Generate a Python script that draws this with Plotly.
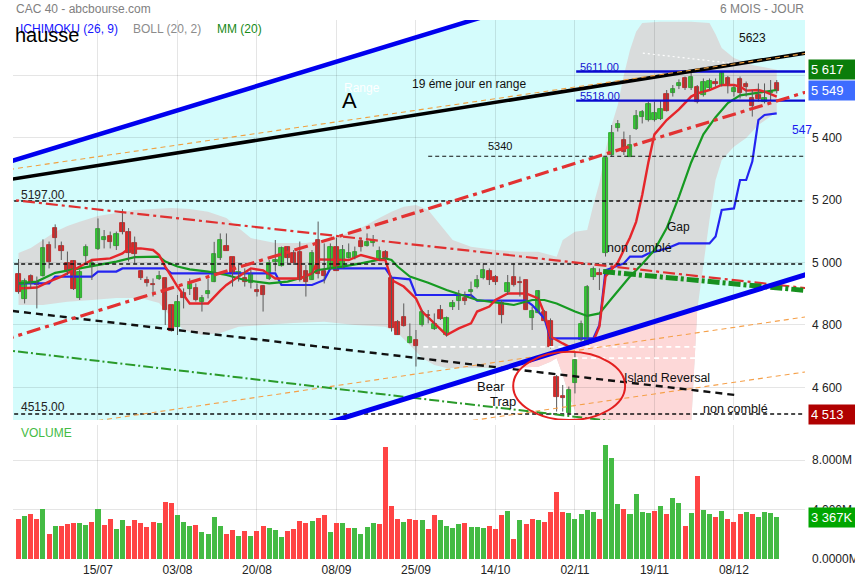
import plotly.graph_objects as go

# ---------------- CAC 40 daily bars, index 0 = 26/06/2020 ... 124 = 17/12/2020 ----------------
opens = [4962, 4883, 4957, 4935, 4957, 5056, 5109, 5053, 5000, 5005,
         4887, 5022, 4987, 5042, 5073, 5085, 5054, 5126, 5097, 5061,
         4973, 4943, 4930, 4946, 4949, 4864, 4795, 4903, 4914, 4917,
         4872, 4900, 4939, 5013, 5053, 5017, 4965, 4949, 4935, 4912,
         4925, 4946, 5003, 4989, 5049, 5029, 5035, 4973, 4944, 5072,
         4973, 4978, 5049, 4981, 5015, 5014, 5070, 5054, 5061, 5010,
         5035, 4949, 4810, 4825, 4743, 4752, 4800, 4831, 4787, 4848,
         4768, 4859, 4878, 4886, 4907, 4923, 4949, 4974, 4952, 4869,
         4907, 4952, 4939, 4944, 4822, 4839, 4843, 4814, 4635, 4572,
         4517, 4613, 4752, 4736, 4953, 4965, 5030, 5344, 5429, 5392,
         5339, 5426, 5465, 5456, 5456, 5458, 5539, 5541, 5565, 5589,
         5557, 5561, 5536, 5557, 5577, 5568, 5589, 5547, 5586, 5571,
         5525, 5536, 5515, 5541, 5573]
highs = [5011, 4949, 4962, 4955, 5074, 5067, 5122, 5067, 5035, 5008,
         4977, 5058, 5008, 5141, 5104, 5099, 5099, 5171, 5110, 5083,
         4976, 4955, 4949, 4973, 4949, 4864, 4896, 4917, 4949, 4933,
         4896, 4949, 5066, 5093, 5093, 5017, 4992, 4981, 4976, 4933,
         4928, 5008, 5072, 5051, 5051, 5040, 5067, 4992, 5040, 5131,
         5061, 5061, 5080, 5056, 5061, 5051, 5080, 5093, 5088, 5051,
         5040, 4955, 4816, 4869, 4805, 4784, 4848, 4848, 4837, 4864,
         4827, 4880, 4912, 4907, 4939, 4960, 4997, 4981, 4960, 4880,
         4960, 4997, 4955, 4944, 4859, 4912, 4848, 4821, 4640, 4608,
         4603, 4715, 4814, 4928, 4987, 4981, 5336, 5440, 5456, 5419,
         5408, 5488, 5488, 5515, 5515, 5520, 5552, 5568, 5586, 5595,
         5611, 5568, 5589, 5589, 5589, 5613, 5597, 5568, 5595, 5579,
         5552, 5573, 5573, 5584, 5584]
lows = [4900, 4869, 4917, 4853, 4955, 4981, 5045, 5008, 4960, 4912,
        4880, 4992, 4944, 5040, 5045, 5045, 5040, 5090, 5003, 4997,
        4944, 4923, 4891, 4944, 4800, 4779, 4768, 4853, 4896, 4875,
        4843, 4885, 4937, 5008, 5038, 4923, 4939, 4923, 4917, 4891,
        4843, 4944, 4971, 4987, 4997, 4992, 4939, 4891, 4944, 4949,
        4933, 4976, 4974, 4981, 5013, 5010, 5035, 5051, 5051, 5008,
        5008, 4779, 4768, 4795, 4741, 4667, 4795, 4805, 4784, 4816,
        4763, 4848, 4848, 4864, 4885, 4917, 4946, 4928, 4928, 4805,
        4896, 4923, 4891, 4848, 4784, 4837, 4811, 4725, 4523, 4523,
        4513, 4581, 4747, 4736, 4944, 4912, 5019, 5339, 5419, 5344,
        5339, 5424, 5445, 5451, 5451, 5456, 5483, 5531, 5555, 5552,
        5552, 5509, 5531, 5552, 5563, 5563, 5541, 5531, 5525, 5531,
        5467, 5515, 5509, 5515, 5541]
closes = [4907, 4942, 4933, 4928, 5045, 5003, 5077, 5038, 4973, 4914,
          4971, 5051, 4997, 5107, 5082, 5067, 5090, 5099, 5029, 5026,
          4951, 4934, 4928, 4957, 4848, 4781, 4872, 4885, 4930, 4880,
          4885, 4909, 5026, 5072, 5038, 4963, 4970, 4939, 4963, 4907,
          4896, 4997, 5008, 5045, 5013, 4997, 4944, 4939, 5029, 4962,
          4958, 5051, 4974, 5040, 5030, 5034, 5049, 5066, 5072, 5037,
          5013, 4789, 4768, 4797, 4763, 4733, 4843, 4829, 4802, 4818,
          4822, 4871, 4893, 4878, 4912, 4944, 4976, 4944, 4939, 4832,
          4935, 4928, 4933, 4848, 4846, 4909, 4814, 4729, 4569, 4565,
          4592, 4688, 4803, 4921, 4978, 4961, 5333, 5413, 5443, 5355,
          5376, 5469, 5481, 5507, 5477, 5490, 5486, 5554, 5575, 5557,
          5595, 5515, 5579, 5582, 5571, 5605, 5568, 5557, 5541, 5563,
          5502, 5522, 5527, 5547, 5549]
# volume in millions of shares
volumes = [3.26, 3.48, 3.62, 3.26, 4.07, 2.05, 2.70, 2.64, 2.83, 2.89,
           2.89, 2.72, 2.99, 4.07, 2.75, 3.24, 2.40, 3.13, 2.67, 3.13,
           2.89, 2.59, 2.99, 2.89, 4.64, 4.53, 3.59, 3.02, 2.67, 2.75,
           2.19, 2.05, 3.42, 2.70, 2.03, 2.35, 1.86, 2.29, 1.89, 2.29,
           2.64, 2.51, 2.37, 1.78, 2.29, 2.40, 3.05, 2.94, 3.08, 3.35,
           3.59, 2.16, 2.94, 2.94, 2.51, 2.51, 2.05, 2.59, 2.91, 2.81,
           9.06, 4.26, 3.21, 2.99, 3.24, 3.18, 3.13, 2.45, 3.53, 3.18,
           2.70, 2.48, 2.83, 2.89, 2.56, 2.56, 2.54, 2.64, 2.45, 3.53,
           3.90, 1.65, 3.13, 2.86, 3.24, 3.18, 2.99, 3.77, 5.42, 3.83,
           3.69, 3.24, 3.64, 3.94, 3.83, 3.26, 9.19, 8.15, 4.42, 4.02,
           3.61, 5.26, 3.80, 3.72, 3.90, 4.31, 3.61, 4.96, 4.53, 2.64,
           3.75, 6.71, 3.99, 3.64, 3.40, 3.86, 3.21, 2.99, 3.61, 3.80,
           3.64, 3.40, 3.80, 3.69, 3.367]

tick_index = [13, 26, 39, 52, 65, 78, 91, 104, 117]
tick_dates = ["15/07", "03/08", "20/08", "08/09", "25/09", "14/10", "02/11", "19/11", "08/12"]
price_ticks = [4600, 4800, 5000, 5200, 5400, 5600]
price_tick_text = ["4 600", "4 800", "5 000", "5 200", "5 400", ""]   # 5 600 sits under the last-value box
volume_ticks = [0, 4, 8]
volume_tick_text = ["0.0000M", "4.000M", "8.000M"]

# ---------------- indicators (bar index, level) ----------------
tenkan_idx = [0, 3, 5, 7, 9, 12, 15, 17, 18, 20, 22, 23, 24, 26, 28, 31, 33, 34, 36, 38, 40, 42, 46, 48, 49,
              54, 56, 59, 60, 61, 63, 65, 66, 68, 70, 72, 74, 75, 77, 78, 80, 83, 85, 86, 87, 89, 90, 92, 94,
              95, 96, 98, 100, 101, 102, 103, 104, 106, 108, 110, 111, 113, 115, 117, 118, 119, 121, 122, 124]
tenkan_val = [4917, 4920, 4939, 4955, 4976, 5008, 5013, 5029, 5045, 5045, 5040, 5024, 4987, 4923, 4869, 4869,
              4910, 4928, 4955, 4981, 4975, 4949, 4949, 4965, 5010, 5008, 5024, 5008, 5008, 4944, 4923, 4885,
              4843, 4805, 4768, 4789, 4805, 4843, 4859, 4880, 4901, 4901, 4885, 4837, 4763, 4741, 4731, 4736,
              4747, 4795, 4955, 5000, 5080, 5130, 5216, 5320, 5410, 5456, 5490, 5531, 5541, 5552, 5568, 5568,
              5563, 5550, 5552, 5547, 5531]
kijun_idx = [0, 5, 6, 12, 13, 16, 17, 24, 25, 42, 43, 48, 50, 51, 60, 61, 64, 65, 74, 75, 83, 84, 85, 86, 87,
             94, 95, 96, 99, 100, 102, 103, 106, 108, 113, 114, 115, 117, 118, 119, 120, 121, 122, 124]
kijun_val = [4933, 4933, 4955, 4955, 4971, 4971, 4981, 4981, 4965, 4965, 4928, 4928, 4944, 4981, 4981, 4952,
             4946, 4896, 4896, 4878, 4878, 4864, 4843, 4821, 4757, 4757, 4800, 4975, 4997, 5019, 5019, 5029,
             5045, 5061, 5061, 5083, 5168, 5173, 5264, 5264, 5323, 5456, 5472, 5477]
mm20_idx = [0, 3, 6, 10, 13, 16, 19, 23, 24, 26, 28, 31, 34, 37, 41, 44, 47, 49, 53, 56, 60, 61, 62, 64, 67,
            70, 75, 81, 84, 86, 88, 91, 93, 95, 97, 99, 100, 102, 104, 106, 108, 110, 112, 114, 116, 118,
            120, 122, 124]
mm20_val = [4933, 4939, 4967, 4981, 4992, 5003, 5017, 5019, 5003, 4987, 4978, 4971, 4960, 4944, 4933, 4939,
            4955, 4976, 4987, 4997, 5013, 5008, 4987, 4955, 4935, 4912, 4880, 4864, 4880, 4880, 4869, 4843,
            4829, 4837, 4885, 4930, 4955, 4995, 5040, 5110, 5210, 5320, 5410, 5465, 5510, 5535, 5541, 5547,
            5552]
boll_up_idx = [0, 2, 4, 6, 8, 10, 13, 16, 19, 22, 25, 28, 31, 34, 36, 38, 42, 47, 50, 53, 56, 59, 61, 63,
               65, 67, 69, 71, 74, 78, 82, 85, 87, 88, 89, 91, 93, 94, 95, 96, 97, 98, 99, 100, 101, 102,
               105, 110, 113, 114, 115, 117, 120, 124]
boll_up_val = [5030, 5046, 5072, 5098, 5117, 5130, 5149, 5158, 5168, 5171, 5174, 5171, 5162, 5142, 5110,
               5078, 5062, 5062, 5072, 5088, 5110, 5142, 5162, 5178, 5184, 5168, 5120, 5072, 5050, 5040,
               5034, 5034, 5024, 5018, 5072, 5098, 5104, 5184, 5254, 5360, 5440, 5504, 5600, 5680, 5738,
               5766, 5770, 5770, 5766, 5730, 5686, 5654, 5632, 5617]
boll_lo_idx = [0, 4, 8, 12, 16, 20, 23, 25, 27, 30, 33, 36, 40, 45, 50, 55, 60, 62, 64, 66, 68, 70, 80, 85,
               87, 88, 89, 90, 91, 92, 93, 95, 100, 105, 108, 110, 111, 112, 113, 114, 115, 117, 119, 121, 124]
boll_lo_val = [4864, 4864, 4874, 4880, 4886, 4886, 4870, 4822, 4784, 4768, 4774, 4794, 4800, 4806, 4810,
               4800, 4794, 4774, 4736, 4694, 4672, 4662, 4662, 4666, 4682, 4694, 4640, 4576, 4528, 4470,
               4432, 4368, 4304, 4336, 4400, 4480, 4848, 4992, 5136, 5264, 5328, 5370, 5398, 5440, 5482]

# ---------------- hand-drawn studies: two (bar index, price) points each ----------------
channel_top = [(-0.9, 5325.8), (74.3, 5776.0)]
channel_bottom = [(59.1, 4538.6), (129.4, 4965.4)]
black_trend = [(-0.9, 5267.2), (128.8, 5670.4)]
orange_top = [(-0.9, 5299.2), (128.8, 5669.1)]
red_rising = [(-0.9, 4761.6), (128.8, 5545.6)]
red_falling = [(-0.9, 5200.0), (128.6, 4918.4)]
green_falling = [(95.6, 4971.0), (128.6, 4910.7)]
black_falling = [(-0.9, 4844.8), (117.2, 4576.0)]
green_low = [(-0.9, 4716.8), (98.4, 4489.6)]
orange_mid = [(46.0, 4588.8), (128.6, 4825.6)]
orange_low = [(71.4, 4486.4), (128.6, 4649.6)]
white_dotted = [(102.1, 5670.0), (116.4, 5638.0)]

full_levels = [4995, 5197, 4515]
level_5340 = (67.0, 5340)
blue_levels = [5611, 5518]
blue_level_start = 91.2
gap_levels = [4730, 4694]
gap_level_starts = [66.2, 90.7]
gap_level_end = 111.5
ellipse_box = (80.9, 99.2, 4496, 4714)

X_RANGE = [-0.899, 128.62]
Y_RANGE = [4496, 5776]
V_RANGE = [0, 10.83]
X_LEFT, X_RIGHT = -3.0, 133.0


def line_at(seg, x):
    (x0, y0), (x1, y1) = seg
    return y0 + (y1 - y0) * (x - x0) / (x1 - x0)


def extended(seg):
    return [X_LEFT, X_RIGHT], [line_at(seg, X_LEFT), line_at(seg, X_RIGHT)]


def from_left(seg):
    """Line running in from the left border and stopping at its second point."""
    return [X_LEFT, seg[1][0]], [line_at(seg, X_LEFT), seg[1][1]]


def path_of(pts):
    return "M " + " L ".join(f"{x:.3f},{y:.2f}" for x, y in pts) + " Z"


def clip_below(poly, seg):
    """Keep the part of a polygon lying under a straight line."""
    f = lambda x, y: line_at(seg, x) - y
    out = []
    n = len(poly)
    for k in range(n):
        cx, cy = poly[k]
        px, py = poly[k - 1]
        fc, fp = f(cx, cy), f(px, py)
        if fc >= 0:
            if fp < 0:
                t = fp / (fp - fc)
                out.append((px + t * (cx - px), py + t * (cy - py)))
            out.append((cx, cy))
        elif fp >= 0:
            t = fp / (fp - fc)
            out.append((px + t * (cx - px), py + t * (cy - py)))
    return out


fig = go.Figure()

# ---------------- background areas ----------------
channel_poly = [(X_LEFT, line_at(channel_top, X_LEFT)), (X_RIGHT, line_at(channel_top, X_RIGHT)),
                (X_RIGHT, line_at(channel_bottom, X_RIGHT)), (X_LEFT, line_at(channel_bottom, X_LEFT))]
band_poly = list(zip(boll_up_idx, boll_up_val)) + list(zip(boll_lo_idx, boll_lo_val))[::-1]
pink_poly = clip_below(band_poly, channel_bottom)

shapes = [
    dict(type="path", xref="x", yref="y", path=path_of(channel_poly), fillcolor="#d4fcfc",
         line=dict(width=0), layer="below"),
    dict(type="path", xref="x", yref="y", path=path_of(band_poly), fillcolor="#d9dcdc",
         line=dict(width=0), layer="below"),
]
if len(pink_poly) > 2:
    shapes.append(dict(type="path", xref="x", yref="y", path=path_of(pink_poly), fillcolor="#fdd8d8",
                       line=dict(width=0), layer="below"))
x0e, x1e, y0e, y1e = ellipse_box
shapes.append(dict(type="circle", xref="x", yref="y", x0=x0e, x1=x1e, y0=y0e, y1=y1e,
                   line=dict(color="#e32020", width=2), layer="above"))


def add_line(xs, ys, color, width, dash="solid", xa="x", ya="y"):
    fig.add_trace(go.Scatter(x=xs, y=ys, mode="lines", xaxis=xa, yaxis=ya, hoverinfo="skip",
                             line=dict(color=color, width=width, dash=dash)))


# ---------------- Ichimoku / moving average ----------------
add_line(kijun_idx, kijun_val, "#2424f0", 2.2)
add_line(mm20_idx, mm20_val, "#169a22", 2.2)
add_line(tenkan_idx, tenkan_val, "#e5262b", 2.4)

# ---------------- candles ----------------
wx, wy = [], []
for i in range(len(closes)):
    wx += [i, i, None]
    wy += [lows[i], highs[i], None]
fig.add_trace(go.Scatter(x=wx, y=wy, mode="lines", line=dict(color="#5a5a5a", width=1), hoverinfo="skip"))

body_base = [min(o, c) for o, c in zip(opens, closes)]
body_h = [max(abs(c - o), 3) for o, c in zip(opens, closes)]
body_fill = ["#33cc33" if c >= o else "#d82a2a" for o, c in zip(opens, closes)]
body_edge = ["#1f9f1f" if c >= o else "#b51c1c" for o, c in zip(opens, closes)]
fig.add_trace(go.Bar(x=list(range(len(closes))), y=body_h, base=body_base, width=0.72,
                     marker=dict(color=body_fill, line=dict(color=body_edge, width=0.8)),
                     hoverinfo="skip"))

# ---------------- drawn studies ----------------
for lvl in full_levels:
    add_line([X_LEFT, X_RIGHT], [lvl, lvl], "#111111", 1.4, "4px,3px")
add_line([level_5340[0], X_RIGHT], [level_5340[1]] * 2, "#111111", 1.2, "4px,3px")
for lvl, x0 in zip(gap_levels, gap_level_starts):
    add_line([x0, gap_level_end], [lvl, lvl], "#ffffff", 1.8, "5px,4px")
for lvl in blue_levels:
    add_line([blue_level_start, X_RIGHT], [lvl, lvl], "#0a0ad0", 2.4)

add_line(*extended(orange_mid), "#f5a04a", 1.1, "5px,4px")
add_line([orange_low[0][0], X_RIGHT], [orange_low[0][1], line_at(orange_low, X_RIGHT)], "#f5a04a", 1.1, "5px,4px")
add_line(*extended(green_low), "#2a9a2a", 2, "10px,3px,2px,3px")
add_line(*from_left(black_falling), "#111111", 2.4, "7px,5px")
add_line(*extended(red_falling), "#e03030", 2.2, "12px,4px,3px,4px")
add_line([green_falling[0][0], X_RIGHT], [green_falling[0][1], line_at(green_falling, X_RIGHT)],
         "#17901f", 5, "12px,3px,3px,3px")
add_line(*extended(black_trend), "#000000", 3.6)
add_line(*extended(orange_top), "#f0a040", 1.1, "5px,4px")
add_line([p[0] for p in white_dotted], [p[1] for p in white_dotted], "#ffffff", 1.2, "2px,3px")
add_line(*extended(red_rising), "#e23232", 3.2, "14px,5px,4px,5px")
add_line(*extended(channel_top), "#0000ee", 4.5)
add_line(*extended(channel_bottom), "#0000ee", 5)

# ---------------- volume ----------------
vol_colors = ["#ff4444" if closes[0] < opens[0] else "#44bb44"]
for i in range(1, len(closes)):
    vol_colors.append("#44bb44" if closes[i] >= closes[i - 1] else "#ff4444")
fig.add_trace(go.Bar(x=list(range(len(volumes))), y=volumes, xaxis="x2", yaxis="y2", width=0.82,
                     marker=dict(color=vol_colors, line=dict(width=0)), hoverinfo="skip"))

# ---------------- texts ----------------
FONT = "Arial"
annotations = []


def note(text, x, y, size=12, color="#111111", xanchor="center", xref="x", yref="y", **kw):
    annotations.append(dict(text=text, x=x, y=y, xref=xref, yref=yref, showarrow=False,
                            xanchor=xanchor, yanchor="middle",
                            font=dict(family=FONT, size=size, color=color), **kw))


note("A", 54.2, 5520, 22, "#000000")
note("Range", 56.2, 5558, 12, "#ffffff")
note("19 éme jour en range", 73.7, 5571, 12)
note("5623", 120.0, 5718, 12)
note("5340", 78.7, 5373, 11)
note("5611.00", 91.5, 5626, 11, "#1515d0", "left")
note("5518.00", 91.5, 5533, 11, "#1515d0", "left")
note("5197.00", 0.1, 5216, 12, "#222222", "left")
note("4515.00", 0.1, 4538, 12, "#222222", "left")
note("Gap", 108.0, 5114, 12)
note("non comblé", 101.5, 5046, 12.5)
note("Bear", 77.3, 4602, 13)
note("Trap", 79.2, 4554, 13)
note("Island Reversal", 106.1, 4630, 12.5)
note("non comblé", 117.2, 4531, 12.5)
note("547", 126.2, 5424, 12, "#1a1aee", "left")

note("CAC 40 - abcbourse.com", 0.0013, 1.0204, 12, "#808080", "left", "paper", "paper")
note("6 MOIS - JOUR", 1.0013, 1.0204, 12, "#808080", "right", "paper", "paper")
note("ICHIMOKU (26, 9)", 0.0063, 0.9833, 12, "#1515ff", "left", "paper", "paper")
note("BOLL (20, 2)", 0.149, 0.9833, 12, "#8c8c8c", "left", "paper", "paper")
note("MM (20)", 0.255, 0.9833, 12, "#178a17", "left", "paper", "paper")
note("hausse", 0.0, 0.9722, 20, "#000000", "left", "paper", "paper")
note("VOLUME", 0.0076, 0.2338, 12, "#44bb44", "left", "paper", "paper")

# last-value boxes on the right scale
for text, yv, yref, bg in [("5 617", 5617, "y", "#0a7d0a"), ("5 549", 5549, "y", "#3d6cff"),
                           ("4 513", 4513, "y", "#b00000"), ("3 367K", 3.367, "y2", "#00a600")]:
    annotations.append(dict(text=text, x=1, xref="paper", y=yv, yref=yref, showarrow=False,
                            xanchor="left", yanchor="middle", xshift=3, align="left", width=43,
                            bgcolor=bg, borderpad=2,
                            font=dict(family=FONT, size=13, color="#ffffff")))

GRID = "rgba(0,0,0,0.10)"
fig.update_layout(
    width=855, height=580,
    margin=dict(l=13, r=50, t=20, b=21, autoexpand=False),
    paper_bgcolor="#ffffff", plot_bgcolor="#ffffff",
    showlegend=False, bargap=0,
    font=dict(family=FONT, size=12, color="#222222"),
    shapes=shapes, annotations=annotations,
    xaxis=dict(domain=[0, 1], range=X_RANGE, anchor="y", tickvals=tick_index, showticklabels=False,
               showgrid=True, gridcolor=GRID, zeroline=False, showline=False, ticks="", automargin=False),
    yaxis=dict(domain=[0.2579, 1], range=Y_RANGE, anchor="x", side="right", tickvals=price_ticks,
               ticktext=price_tick_text, showgrid=True, gridcolor=GRID, zeroline=False,
               showline=False, ticks="", ticklabelstandoff=6, automargin=False,
               tickfont=dict(family=FONT, size=12, color="#222222")),
    xaxis2=dict(domain=[0, 1], range=X_RANGE, anchor="y2", tickvals=tick_index, ticktext=tick_dates,
                showgrid=True, gridcolor=GRID, zeroline=False, showline=False, ticks="",
                ticklabelstandoff=2, automargin=False,
                tickfont=dict(family=FONT, size=12, color="#222222")),
    yaxis2=dict(domain=[0, 0.2486], range=V_RANGE, anchor="x2", side="right", tickvals=volume_ticks,
                ticktext=volume_tick_text, showgrid=True, gridcolor=GRID, zeroline=False,
                showline=False, ticks="", ticklabelstandoff=6, automargin=False,
                tickfont=dict(family=FONT, size=12, color="#222222")),
)

fig.write_html("out.html")
